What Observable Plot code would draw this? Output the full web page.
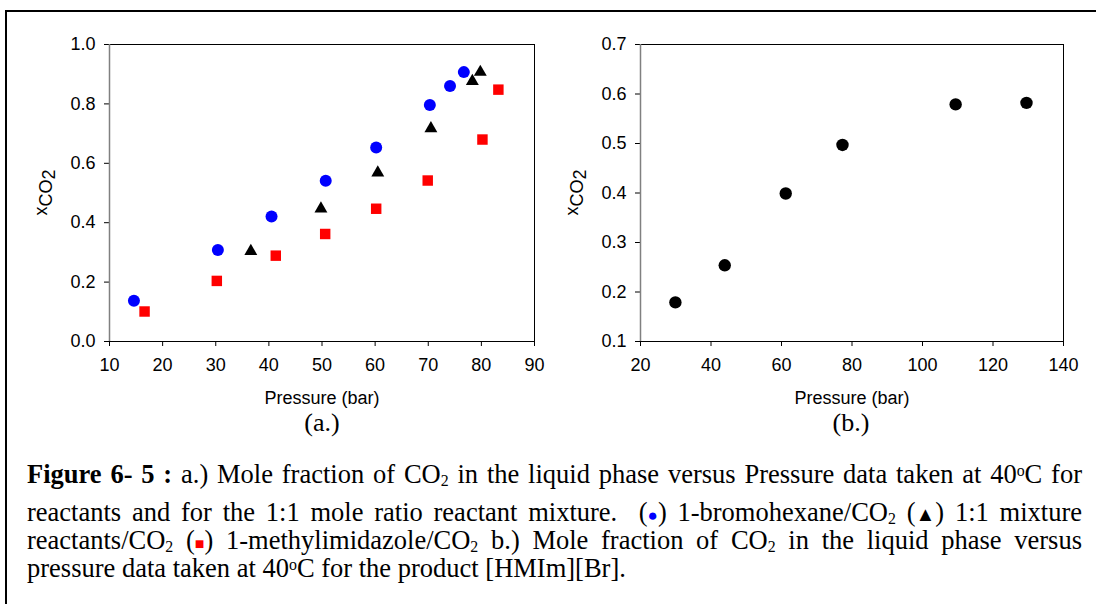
<!DOCTYPE html>
<html><head><meta charset="utf-8">
<script src="https://cdn.jsdelivr.net/npm/d3@7"></script>
<script src="https://cdn.jsdelivr.net/npm/@observablehq/plot@0.6"></script>
<style>
html,body{margin:0;padding:0;background:#fff;}
#page{position:relative;width:1096px;height:604px;overflow:hidden;background:#fff;}
#border{position:absolute;left:5px;top:10px;width:1200px;height:700px;border-left:2px solid #000;border-top:2px solid #000;}
.panel{position:absolute;top:0;}
.panel svg{overflow:visible;}
.sublab{position:absolute;font-family:"Liberation Serif","Times New Roman",serif;font-size:26px;line-height:26px;transform:translateX(-50%);white-space:nowrap;color:#000;}
.cap{position:absolute;left:27px;width:1055px;font-family:"Liberation Serif","Times New Roman",serif;font-size:26.5px;line-height:25px;color:#000;white-space:nowrap;}
.cap sub{font-size:0.6em;vertical-align:-0.18em;line-height:0;}
.cap sup{font-size:0.6em;vertical-align:0.45em;line-height:0;}
</style>
</head><body>
<div id="page">
  <div id="border"></div>
  <div class="panel" id="left" style="left:0px"></div>
  <div class="panel" id="right" style="left:560px"></div>
  <div class="sublab" style="left:322px;top:410px">(a.)</div>
  <div class="sublab" style="left:851px;top:410px">(b.)</div>
  <div class="cap j" style="top:462px"><span class="in"><b>Figure 6- 5 :</b> a.) Mole fraction of CO<sub>2</sub> in the liquid phase versus Pressure data taken at 40<sup>o</sup>C for</span></div>
  <div class="cap j" style="top:500px"><span class="in">reactants and for the 1:1 mole ratio reactant mixture.&nbsp; (<span style="color:#0000ff;font-size:17px">●</span>) 1-bromohexane/CO<sub>2</sub> (<span style="font-size:20px">▲</span>) 1:1 mixture</span></div>
  <div class="cap j" style="top:528px"><span class="in">reactants/CO<sub>2</sub> (<span style="color:#ff0000;font-size:16px">■</span>) 1-methylimidazole/CO<sub>2</sub> b.) Mole fraction of CO<sub>2</sub> in the liquid phase versus</span></div>
  <div class="cap" style="top:556px">pressure data taken at 40<sup>o</sup>C for the product [HMIm][Br].</div>
</div>
<script>
// ---- data (a.) ----
const bromoP  = [14.6, 30.4, 40.5, 50.7, 60.2, 70.3, 74.1, 76.7];
const bromoX  = [0.137, 0.308, 0.421, 0.541, 0.653, 0.796, 0.860, 0.907];
const mixP    = [36.6, 49.8, 60.5, 70.5, 78.3, 79.8];
const mixX    = [0.304, 0.447, 0.568, 0.717, 0.876, 0.907];
const methylP = [16.6, 30.2, 41.3, 50.6, 60.2, 69.9, 80.2, 83.2];
const methylX = [0.101, 0.204, 0.289, 0.362, 0.447, 0.542, 0.680, 0.848];
const leftXTicks = [10, 20, 30, 40, 50, 60, 70, 80, 90];
const leftYTicks = [0.0, 0.2, 0.4, 0.6, 0.8, 1.0];
// ---- data (b.) ----
const productP = [29.9, 43.9, 61.2, 77.3, 109.4, 129.5];
const productX = [0.179, 0.254, 0.399, 0.497, 0.579, 0.582];
const rightXTicks = [20, 40, 60, 80, 100, 120, 140];
const rightYTicks = [0.1, 0.2, 0.3, 0.4, 0.5, 0.6, 0.7];

const rows = (p, x) => p.map((v, i) => ({p: v, x: x[i]}));
const bromo = rows(bromoP, bromoX);
const mix = rows(mixP, mixX);
const methyl = rows(methylP, methylX);
const product = rows(productP, productX);

const style = {fontFamily: "'Liberation Sans', Arial, sans-serif", fontSize: "18px", color: "#000", background: "transparent", overflow: "visible"};

function addYLabel(svg, x, y) {
  const t = d3.select(svg).append("text")
    .attr("transform", `translate(${x},${y}) rotate(-90)`)
    .attr("text-anchor", "middle")
    .attr("font-family", "'Liberation Sans', Arial, sans-serif")
    .attr("font-size", 18).attr("fill", "#000");
  t.append("tspan").text("x");
  t.append("tspan").attr("dy", "0.25em").text("CO");
  t.append("tspan").attr("dy", "0.22em").text("2");
}

const left = Plot.plot({
  width: 560, height: 440,
  marginLeft: 109, marginRight: 26, marginTop: 44, marginBottom: 99,
  style,
  x: {domain: [leftXTicks[0], leftXTicks[leftXTicks.length - 1]], ticks: leftXTicks, tickSize: 5, tickPadding: 12,
      tickFormat: d3.format("d"), label: "Pressure (bar)", labelAnchor: "center", labelOffset: 62, labelArrow: "none"},
  y: {domain: [leftYTicks[0], leftYTicks[leftYTicks.length - 1]], ticks: leftYTicks, tickSize: 5, tickPadding: 9,
      tickFormat: d3.format(".1f"), label: null},
  marks: [
    Plot.frame({stroke: "#000", strokeWidth: 1}),
    Plot.ruleX([leftXTicks[0]], {stroke: "#808080", strokeWidth: 1.5}),
    Plot.dot(bromo, {x: "p", y: "x", r: 6, fill: "#0000ff", symbol: "circle"}),
    Plot.dot(mix, {x: "p", y: "x", r: 4.8, fill: "#000000", symbol: "triangle"}),
    Plot.dot(methyl, {x: "p", y: "x", r: 5.9, fill: "#ff0000", symbol: "square"})
  ]
});
addYLabel(left, 47, 192.5);
document.getElementById("left").appendChild(left);

const right = Plot.plot({
  width: 536, height: 440,
  marginLeft: 80, marginRight: 33, marginTop: 44, marginBottom: 99,
  style,
  x: {domain: [rightXTicks[0], rightXTicks[rightXTicks.length - 1]], ticks: rightXTicks, tickSize: 5, tickPadding: 12,
      tickFormat: d3.format("d"), label: "Pressure (bar)", labelAnchor: "center", labelOffset: 62, labelArrow: "none"},
  y: {domain: [rightYTicks[0], rightYTicks[rightYTicks.length - 1]], ticks: rightYTicks, tickSize: 5, tickPadding: 9,
      tickFormat: d3.format(".1f"), label: null},
  marks: [
    Plot.frame({stroke: "#000", strokeWidth: 1}),
    Plot.ruleX([rightXTicks[0]], {stroke: "#808080", strokeWidth: 1.5}),
    Plot.dot(product, {x: "p", y: "x", r: 6.2, fill: "#000000", symbol: "circle"})
  ]
});
addYLabel(right, 18, 192.5);
document.getElementById("right").appendChild(right);

// justify the full caption lines to the block width
document.querySelectorAll(".cap.j").forEach(el => {
  const inner = el.querySelector(".in");
  const w = inner.getBoundingClientRect().width;
  const n = (inner.textContent.match(/[ \u00a0]/g) || []).length;
  if (n > 0) inner.style.wordSpacing = ((1055 - w) / n) + "px";
});
</script>
</body></html>
